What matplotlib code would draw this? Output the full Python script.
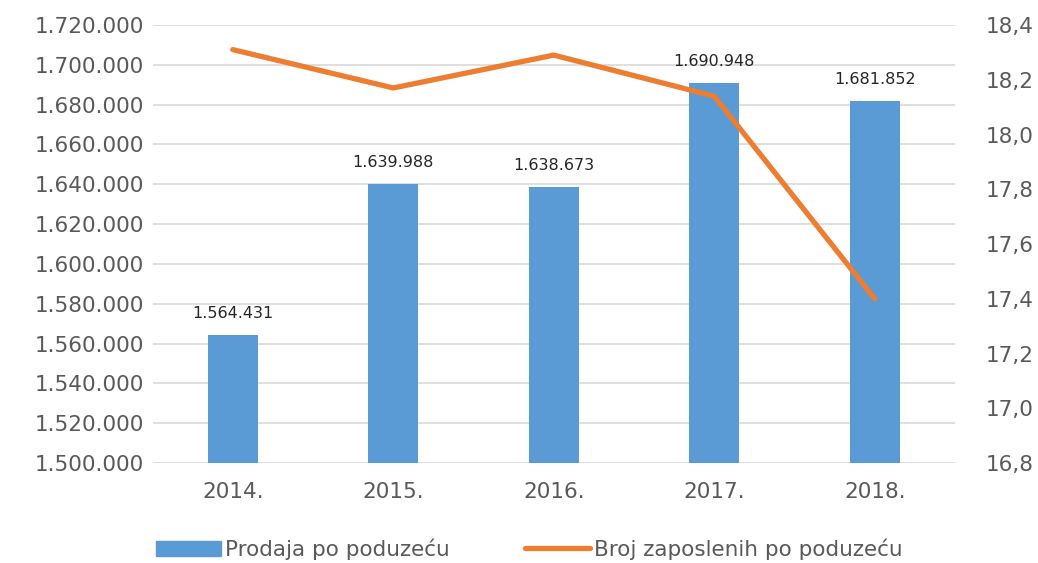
import numpy as np
import matplotlib.pyplot as plt
from matplotlib.lines import Line2D
from matplotlib.patches import Patch

years = ['2014.', '2015.', '2016.', '2017.', '2018.']
prodaja = [1564431, 1639988, 1638673, 1690948, 1681852]
zaposleni = [18.31, 18.17, 18.29, 18.14, 17.40]

blue = '#5B9BD5'
orange = '#ED7D31'
grey = '#595959'

plt.rcParams['font.family'] = ['DejaVu Sans']


def fmt(v):
    return '{:,}'.format(int(v)).replace(',', '.')


fig = plt.figure(figsize=(10.38, 5.63), dpi=100)
ax = fig.add_axes([0.147, 0.1776, 0.773, 0.778])
x = np.arange(len(years))

ax.bar(x, prodaja, width=0.31, color=blue, zorder=2)
for xi, v in zip(x, prodaja):
    ax.text(xi, v + 7000, fmt(v), ha='center', va='bottom', fontsize=11.5, color='#262626')

yt = np.arange(1500000, 1720001, 20000)
ax.set_ylim(1500000, 1720000)
ax.set_yticks(yt)
ax.set_yticklabels([fmt(t) for t in yt])
ax.set_xlim(-0.5, 4.5)
ax.set_xticks(x)
ax.set_xticklabels(years)
ax.grid(axis='y', color='#D9D9D9', linewidth=1.2, zorder=0)
ax.set_axisbelow(True)
for s in ax.spines.values():
    s.set_visible(False)
ax.tick_params(axis='y', length=0, labelsize=15.5, colors=grey, pad=6)
ax.tick_params(axis='x', length=0, labelsize=15.5, colors=grey, pad=14)

ax2 = ax.twinx()
ax2.plot(x, zaposleni, color=orange, linewidth=3.8, solid_capstyle='round')
rt = np.arange(16.8, 18.41, 0.2)
ax2.set_ylim(16.8, 18.4)
ax2.set_yticks(rt)
ax2.set_yticklabels([('%.1f' % t).replace('.', ',') for t in rt])
for s in ax2.spines.values():
    s.set_visible(False)
ax2.tick_params(length=0, labelsize=15.5, colors=grey, pad=22)

handles = [Patch(color=blue), Line2D([0], [0], color=orange, linewidth=3.8, solid_capstyle='round')]
fig.legend(handles, ['Prodaja po poduzeću', 'Broj zaposlenih po poduzeću'],
           loc='center', bbox_to_anchor=(0.51, 0.025), ncol=2, frameon=False,
           fontsize=15.5, labelcolor=grey, handlelength=3.0, handletextpad=0.2,
           columnspacing=3.5)

fig.savefig('out.png', dpi=100)
